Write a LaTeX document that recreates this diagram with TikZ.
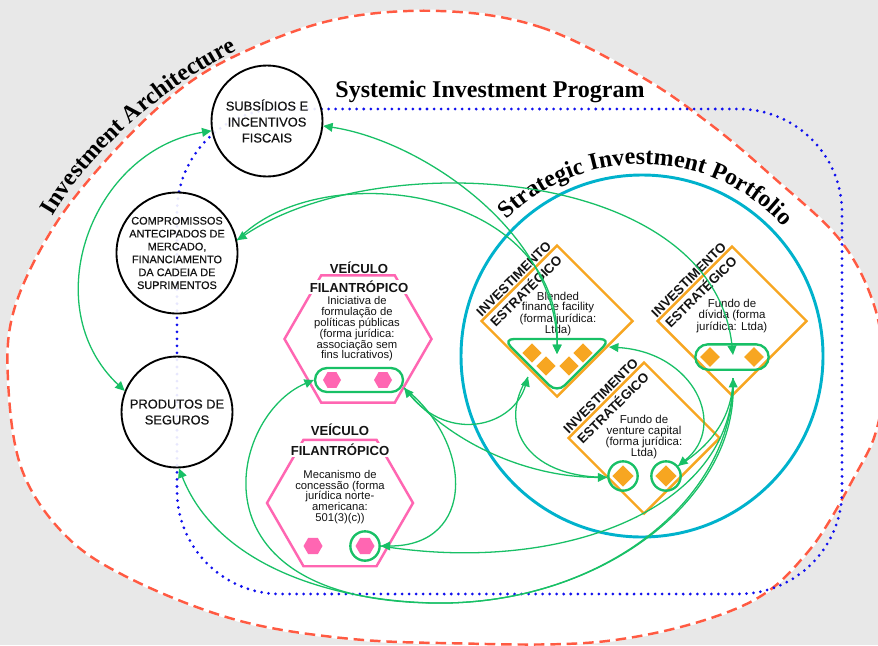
\documentclass[tikz,border=0pt]{standalone}
\usepackage{fontspec}
\setmainfont{Liberation Sans}
\newfontfamily\serifbold{Liberation Serif}
\newfontface\bubbleface{Liberation Sans}[FakeBold=0.5]
\usetikzlibrary{positioning,arrows.meta,shapes.geometric,decorations.text}
\definecolor{archred}{RGB}{255,90,66}
\definecolor{progblue}{RGB}{16,16,238}
\definecolor{portcyan}{RGB}{0,178,204}
\definecolor{vehpink}{RGB}{255,102,178}
\definecolor{invorange}{RGB}{247,166,33}
\definecolor{linkgreen}{RGB}{24,192,102}
\definecolor{bggrey}{RGB}{232,232,232}
\definecolor{ink}{RGB}{20,20,20}
\newcommand{\ribbonfont}{\serifbold\bfseries\fontsize{20.5}{24}\selectfont}
\tikzset{
  bubble/.style={circle,draw=black,line width=1.6pt,fill=white,fill opacity=0.9,text opacity=1,inner sep=0pt,align=center,text=ink},
  vehicle/.style={regular polygon,regular polygon sides=6,draw=vehpink,line width=2.1pt,inner sep=0pt},
  minihex/.style={regular polygon,regular polygon sides=6,fill=vehpink,inner sep=0pt,minimum size=0.54cm},
  invest/.style={diamond,draw=invorange,line width=2.1pt,inner sep=0pt,minimum size=4.56cm},
  minidiam/.style={diamond,fill=invorange,inner sep=0pt,minimum size=0.58cm},
  pill/.style={draw=linkgreen,line width=2pt,inner sep=0pt},
  ring/.style={circle,draw=linkgreen,line width=2pt,inner sep=0pt,minimum size=0.88cm},
  vehtitle/.style={font=\bfseries\fontsize{11.2}{13}\selectfont,text=ink,fill=white,inner sep=1pt},
  invtitle/.style={font=\bfseries\fontsize{11.3}{15}\selectfont,align=center,rotate=45,text=ink,inner sep=0pt},
  body/.style={font=\fontsize{9.6}{9.2}\selectfont,align=center,text=ink,inner sep=0pt},
  link/.style={draw=linkgreen,line width=1.1pt},
  title/.style={font=\ribbonfont,text=black,inner sep=0pt},
  archline/.style={draw=archred,line width=2.1pt,dash pattern=on 9pt off 5pt},
  progline/.style={draw=progblue,line width=2.6pt,dash pattern=on 0pt off 6pt,line cap=round},
  portline/.style={draw=portcyan,line width=2.5pt},
  >={Triangle[length=8pt,width=7.5pt]}
}

\begin{document}
\begin{tikzpicture}[x=0.03cm,y=-0.03cm]
  \useasboundingbox (0,0) rectangle (878,645);
  \fill[bggrey] (0,0) rectangle (878,645);
  % investment architecture
  \begin{scope}
    \clip (0,0) rectangle (878,645);
    \draw[archline,fill=white,preaction={draw=white,line width=2.1pt}] plot[smooth cycle,tension=0.6] coordinates {
      (440,11) (540,27) (640,76) (710,124) (773,177) (840,240) (874,305) (884,372) (877,428)
      (857,472) (807,553) (740,607) (607,641) (440,643) (333,637) (233,619) (133,580) (67,537)
      (22,470) (8,380) (14,310) (50,233) (100,167) (167,100) (233,57) (333,20)};
  \end{scope}
  \path[decorate,decoration={text along path,text align=center,text={|\ribbonfont|Investment Architecture}}]
    (52,217) .. controls (84,162) and (152,93) .. (238,50);

  % systemic program + portfolio
  \draw[progline,rounded corners=3.1cm] (177,109) rectangle (842,594);
  \node[title,anchor=base] (sysTitle) at (490,97) {Systemic Investment Program};
  \draw[portline] (642,356) circle[radius=181];
  \path[decorate,decoration={text along path,text align=center,text={|\ribbonfont|Strategic Investment Portfolio}}]
    (501.6,225.1) arc[start angle=-137,end angle=-40,radius=192];

  % instruments
  \node[bubble,minimum size=3.33cm,font=\bubbleface\fontsize{11}{13.6}\selectfont] (sub) at (267,121) {SUBSÍDIOS E\\INCENTIVOS\\FISCAIS};
  \node[bubble,minimum size=3.63cm,font=\bubbleface\fontsize{9.3}{11}\selectfont] (comp) at (177,253) {COMPROMISSOS\\ANTECIPADOS DE\\MERCADO,\\FINANCIAMENTO\\DA CADEIA DE\\SUPRIMENTOS};
  \node[bubble,minimum size=3.33cm,font=\bubbleface\fontsize{11}{13.6}\selectfont] (prod) at (177,412) {PRODUTOS DE\\SEGUROS};

  % vehicles
  \node[vehicle,minimum size=4.41cm] (hexA) at (358,339) {};
  \node[vehicle,minimum size=4.38cm] (hexB) at (340,503) {};
  \node[vehtitle,fill=none] (vehA) at (359,268) {VEÍCULO};
  \node[vehtitle] (filA) at (359,287) {FILANTRÓPICO};
  \node[vehtitle,fill=none] (vehB) at (340,430) {VEÍCULO};
  \node[vehtitle] (filB) at (340,450) {FILANTRÓPICO};
  \node[body] (iniA) at (357,329) {Iniciativa de\\formulação de\\políticas públicas\\(forma jurídica:\\associação sem\\fins lucrativos)};
  \node[body] (mecB) at (340,497) {Mecanismo de\\concessão (forma\\jurídica norte-\\americana:\\501(3)(c))};
  \node[pill,minimum width=2.64cm,minimum height=0.72cm,rounded corners=0.36cm] (pillA) at (359,380) {};
  \node[minihex] (hA1) at (332,380) {};
  \node[minihex] (hA2) at (383,380) {};
  \node[minihex,minimum size=0.57cm] (hB1) at (313,546) {};
  \node[minihex,minimum size=0.57cm] (hB2) at (365,546) {};
  \node[ring] (ringB) at (365,546) {};

  % strategic investments
  \node[invest] (dA) at (557,321) {};
  \node[invest,minimum size=4.5cm] (dB) at (732,321) {};
  \node[invest] (dC) at (644,438) {};
  \node[invtitle] (tA) at (520,285) {INVESTIMENTO\\ESTRATÉGICO};
  \node[invtitle] (tB) at (695,286) {INVESTIMENTO\\ESTRATÉGICO};
  \node[invtitle] (tC) at (607,402) {INVESTIMENTO\\ESTRATÉGICO};
  \node[body,font=\fontsize{9.8}{9.2}\selectfont] (blend) at (558,314) {Blended\\finance facility\\(forma jurídica:\\Ltda)};
  \node[body,font=\fontsize{9.8}{9.8}\selectfont] (divida) at (732,316) {Fundo de\\dívida (forma\\jurídica: Ltda)};
  \node[body,font=\fontsize{9.8}{9.4}\selectfont] (venture) at (644,437) {Fundo de\\venture capital\\(forma jurídica:\\Ltda)};
  \draw[pill,rounded corners=0.33cm] (503,339) -- (611,339) -- (557,393) -- cycle;
  \node[minidiam] (mA1) at (532,353) {};
  \node[minidiam] (mA2) at (583,353) {};
  \node[minidiam] (mA3) at (546,366) {};
  \node[minidiam] (mA4) at (569,366) {};
  \node[pill,minimum width=2.2cm,minimum height=0.76cm,rounded corners=0.38cm] (pillD) at (732,357) {};
  \node[minidiam,minimum size=0.6cm] (mB1) at (710,357) {};
  \node[minidiam,minimum size=0.6cm] (mB2) at (754,357) {};
  \node[minidiam,minimum size=0.64cm] (mC1) at (623,476) {};
  \node[minidiam,minimum size=0.64cm] (mC2) at (666,476) {};
  \node[ring] (ringC1) at (623,476) {};
  \node[ring] (ringC2) at (666,476) {};
  \coordinate (blendIn) at (557,354);
  \coordinate (blendSide) at (609,347);
  \coordinate (blendLow) at (528,377);
  \coordinate (dividaIn) at (733,355);
  \coordinate (dividaLow) at (733,378);

  % flows
  \draw[link,<->] (sub.190) .. controls +(-120,20) and +(-90,-85) .. (prod.158);
  \draw[link,<->] (sub.-5) .. controls +(100,15) and +(0,-120) .. (blendIn);
  \draw[link,->] (comp.12) .. controls +(80,-85) and +(5,-170) .. (blendIn);
  \draw[link,<->] (comp.12) .. controls +(140,-95) and +(-20,-190) .. (dividaIn);
  \draw[link,<->] (pillA.west) .. controls (230,415) and (185,600) .. (433,603) .. controls (600,606) and (735,500) .. (dividaLow);
  \draw[link,<->] (pillA.-10) .. controls +(45,55) and +(-15,50) .. (blendLow);
  \draw[link,->] (pillA.-10) .. controls +(45,55) and +(-80,0) .. (ringC1.185);
  \draw[link,->] (pillA.-10) .. controls +(70,55) and +(95,0) .. (ringB.east);
  \draw[link] (blendLow) .. controls +(-30,45) and +(-85,0) .. (ringC1.185);
  \draw[link,<->] (blendSide) .. controls +(85,5) and +(50,-40) .. (ringC2.40);
  \draw[link] (dividaLow) .. controls +(0,45) and +(25,-15) .. (ringC2.40);
  \draw[link] (ringB.east) .. controls (560,575) and (735,510) .. (dividaLow);
  \draw[link,->] (dividaLow) .. controls (735,500) and (600,606) .. (433,603) .. controls (320,600) and (215,560) .. (prod.272);
\end{tikzpicture}
\end{document}
